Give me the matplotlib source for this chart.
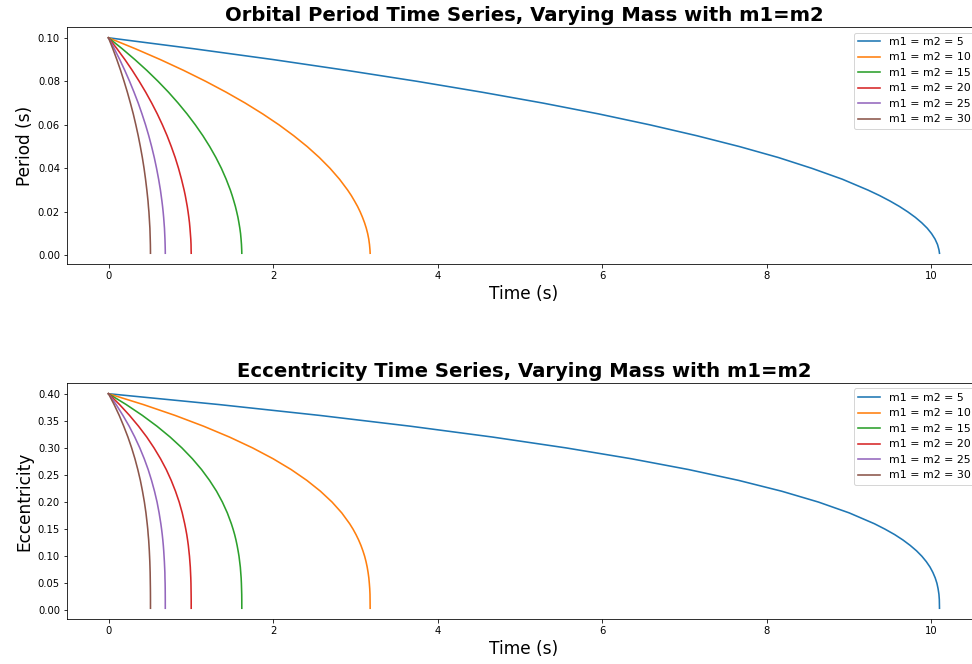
import matplotlib
matplotlib.use("Agg")
import matplotlib.pyplot as plt

masses = [5, 10, 15, 20, 25, 30]
labels = ["m1 = m2 = %d" % m for m in masses]

# period levels (s) and the time (s) at which each curve reaches them
period_levels = [0.100, 0.095, 0.090, 0.085, 0.080, 0.075, 0.070, 0.065,
                 0.060, 0.055, 0.050, 0.045, 0.040, 0.035, 0.030, 0.0275,
                 0.025, 0.0225, 0.020, 0.0175, 0.015, 0.0125, 0.010, 0.0075,
                 0.005, 0.0025, 0.001]
period_times = [
    [0, 1.03, 2.00, 2.90, 3.75, 4.54, 5.28, 5.96, 6.58, 7.15, 7.67, 8.14,
     8.55, 8.92, 9.232, 9.372, 9.498, 9.613, 9.715, 9.806, 9.884, 9.951, 10.004,
     10.046, 10.076, 10.094, 10.10],
    [0, 0.324, 0.629, 0.914, 1.181, 1.430, 1.662, 1.875, 2.072, 2.251, 2.415, 2.562,
     2.693, 2.808, 2.907, 2.951, 2.990, 3.027, 3.059, 3.087, 3.112, 3.133, 3.150,
     3.163, 3.172, 3.178, 3.18],
    [0, 0.165, 0.320, 0.466, 0.602, 0.729, 0.846, 0.955, 1.055, 1.147, 1.230, 1.305,
     1.372, 1.430, 1.481, 1.503, 1.523, 1.542, 1.558, 1.573, 1.585, 1.596, 1.605,
     1.611, 1.616, 1.619, 1.62],
    [0, 0.102, 0.199, 0.289, 0.373, 0.452, 0.525, 0.593, 0.655, 0.712, 0.763, 0.810,
     0.851, 0.887, 0.919, 0.933, 0.945, 0.957, 0.967, 0.976, 0.984, 0.990, 0.995,
     1.000, 1.003, 1.004, 1.005],
    [0, 0.070, 0.136, 0.198, 0.256, 0.310, 0.361, 0.407, 0.450, 0.489, 0.524, 0.556,
     0.584, 0.609, 0.631, 0.640, 0.649, 0.657, 0.664, 0.670, 0.675, 0.680, 0.683,
     0.686, 0.688, 0.6896, 0.69],
    [0, 0.052, 0.101, 0.147, 0.189, 0.229, 0.266, 0.301, 0.332, 0.361, 0.387, 0.411,
     0.432, 0.450, 0.466, 0.473, 0.480, 0.485, 0.491, 0.495, 0.499, 0.503, 0.505,
     0.507, 0.5088, 0.5097, 0.51],
]

# eccentricity levels and the time (s) at which each curve reaches them
ecc_levels = [0.40, 0.38, 0.36, 0.34, 0.32, 0.30, 0.28, 0.26, 0.24, 0.22,
              0.20, 0.18, 0.16, 0.15, 0.14, 0.13, 0.12, 0.11, 0.10, 0.09,
              0.08, 0.07, 0.06, 0.05, 0.04, 0.03, 0.02, 0.004]
ecc_times = [
    [0, 1.343, 2.565, 3.671, 4.668, 5.561, 6.353, 7.051, 7.659, 8.183, 8.629, 9.003,
     9.309, 9.438, 9.555, 9.656, 9.744, 9.821, 9.886, 9.940, 9.985, 10.020, 10.048,
     10.069, 10.083, 10.093, 10.098, 10.10],
    [0, 0.423, 0.808, 1.156, 1.470, 1.751, 2.000, 2.220, 2.411, 2.576, 2.717, 2.835,
     2.931, 2.972, 3.008, 3.040, 3.068, 3.092, 3.113, 3.130, 3.144, 3.155, 3.164,
     3.170, 3.175, 3.178, 3.179, 3.18],
    [0, 0.215, 0.411, 0.589, 0.749, 0.892, 1.019, 1.131, 1.228, 1.313, 1.384, 1.444,
     1.493, 1.514, 1.533, 1.549, 1.563, 1.575, 1.586, 1.594, 1.602, 1.607, 1.612,
     1.615, 1.617, 1.619, 1.6197, 1.62],
    [0, 0.134, 0.255, 0.365, 0.465, 0.553, 0.632, 0.702, 0.762, 0.814, 0.859, 0.896,
     0.926, 0.939, 0.951, 0.961, 0.970, 0.977, 0.984, 0.989, 0.994, 0.997, 1.000,
     1.002, 1.003, 1.004, 1.0048, 1.005],
    [0, 0.092, 0.175, 0.251, 0.319, 0.380, 0.434, 0.482, 0.523, 0.559, 0.590, 0.615,
     0.636, 0.645, 0.653, 0.660, 0.666, 0.671, 0.675, 0.679, 0.682, 0.685, 0.686,
     0.688, 0.689, 0.6895, 0.6899, 0.69],
    [0, 0.068, 0.130, 0.185, 0.236, 0.281, 0.321, 0.356, 0.387, 0.413, 0.436, 0.455,
     0.470, 0.477, 0.482, 0.488, 0.492, 0.496, 0.499, 0.502, 0.504, 0.506, 0.507,
     0.508, 0.509, 0.5096, 0.5099, 0.51],
]

fig = plt.figure(figsize=(972 / 72, 664 / 72), dpi=72)
ax1 = fig.add_axes([0.0689, 0.6024, 0.9404, 0.3569])
ax2 = fig.add_axes([0.0689, 0.0678, 0.9404, 0.3554])

for t, lab in zip(period_times, labels):
    ax1.plot(t, period_levels, label=lab, lw=1.6)
ax1.set_title("Orbital Period Time Series, Varying Mass with m1=m2", fontsize=19.6, fontweight="bold")
ax1.set_xlabel("Time (s)", fontsize=17)
ax1.set_ylabel("Period (s)", fontsize=17)
ax1.legend(loc="upper right", fontsize=11)

for t, lab in zip(ecc_times, labels):
    ax2.plot(t, ecc_levels, label=lab, lw=1.6)
ax2.set_title("Eccentricity Time Series, Varying Mass with m1=m2", fontsize=19.6, fontweight="bold")
ax2.set_xlabel("Time (s)", fontsize=17)
ax2.set_ylabel("Eccentricity", fontsize=17)
ax2.legend(loc="upper right", fontsize=11)

for ax in (ax1, ax2):
    ax.tick_params(labelsize=10)

fig.savefig("out.png", dpi=72)
